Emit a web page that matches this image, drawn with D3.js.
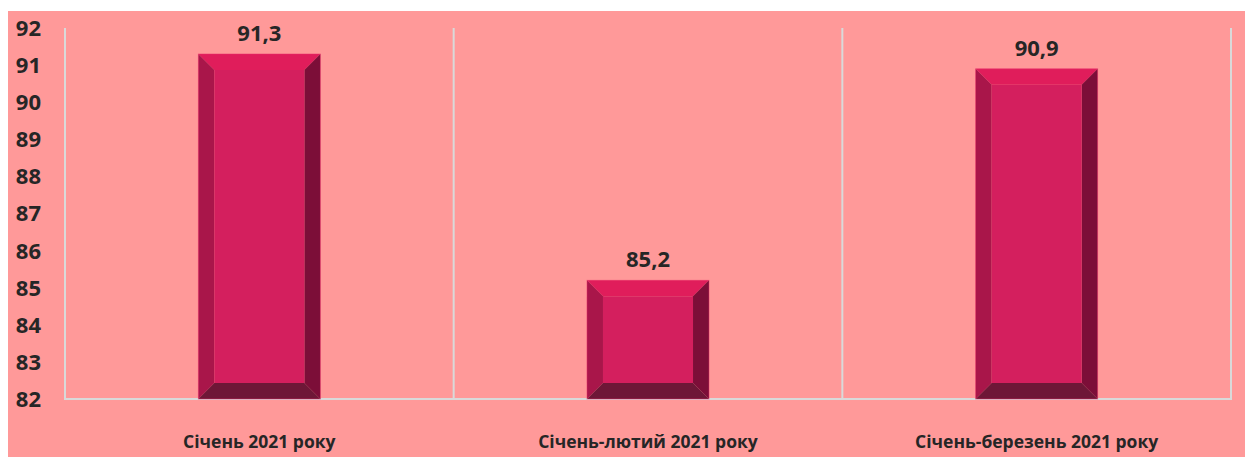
<!DOCTYPE html>
<html>
<head>
<meta charset="utf-8">
<script src="https://cdn.jsdelivr.net/npm/d3@7"></script>
<style>
  html, body { margin: 0; padding: 0; background: #fff; }
  svg { display: block; }
</style>
</head>
<body>
<svg id="chart" width="1245" height="457"></svg>
<script>
// ── DATA ──
const categories = ['Січень 2021 року', 'Січень-лютий 2021 року', 'Січень-березень 2021 року'];
const values     = [91.3, 85.2, 90.9];
const yTicks     = [82, 83, 84, 85, 86, 87, 88, 89, 90, 91, 92];

// ── LAYOUT ──
const W = 1245, H = 457;
const plot = { left: 65, right: 1231, top: 28, bottom: 399 };
const bevel = 16;
const font = '"Open Sans", "Noto Sans", sans-serif';

const svg = d3.select('#chart');

// background panel
svg.append('rect')
  .attr('x', 8).attr('y', 11)
  .attr('width', W - 8).attr('height', H - 11)
  .attr('fill', '#FF9999');

const x = d3.scaleBand().domain(categories).range([plot.left, plot.right]).padding(0);
const y = d3.scaleLinear().domain([82, 92]).range([plot.bottom, plot.top]);

// vertical gridlines at category boundaries
const bounds = categories.map(c => x(c)).concat([x(categories[categories.length - 1]) + x.bandwidth()]);
svg.append('g').selectAll('line')
  .data(bounds)
  .enter().append('line')
  .attr('x1', d => d).attr('x2', d => d)
  .attr('y1', plot.top).attr('y2', plot.bottom)
  .attr('stroke', '#D9D9D9').attr('stroke-width', 2);

// x axis baseline
svg.append('line')
  .attr('x1', plot.left - 1).attr('x2', plot.right + 1)
  .attr('y1', plot.bottom).attr('y2', plot.bottom)
  .attr('stroke', '#D9D9D9').attr('stroke-width', 2);

// y tick labels
svg.append('g').selectAll('text')
  .data(yTicks)
  .enter().append('text')
  .attr('x', 41).attr('y', d => y(d))
  .attr('dy', '0.36em')
  .attr('text-anchor', 'end')
  .attr('font-family', font).attr('font-weight', 700).attr('font-size', '22px')
  .attr('fill', '#262626')
  .text(d => d);

// bars with bevel
const barW = x.bandwidth() * 0.314;
const bars = svg.append('g').selectAll('g')
  .data(values.map((v, i) => ({ v, c: categories[i] })))
  .enter().append('g');

bars.each(function(d) {
  const g = d3.select(this);
  const x0 = x(d.c) + (x.bandwidth() - barW) / 2, x1 = x0 + barW;
  const y0 = y(d.v), y1 = y(82);
  const b = Math.min(bevel, (y1 - y0) / 2);
  const pts = a => a.map(p => p.join(',')).join(' ');
  // top
  g.append('polygon').attr('points', pts([[x0, y0], [x1, y0], [x1 - b, y0 + b], [x0 + b, y0 + b]])).attr('fill', '#E01D5B');
  // left
  g.append('polygon').attr('points', pts([[x0, y0], [x0 + b, y0 + b], [x0 + b, y1 - b], [x0, y1]])).attr('fill', '#A9164A');
  // right
  g.append('polygon').attr('points', pts([[x1, y0], [x1, y1], [x1 - b, y1 - b], [x1 - b, y0 + b]])).attr('fill', '#7C0E38');
  // bottom
  g.append('polygon').attr('points', pts([[x0, y1], [x0 + b, y1 - b], [x1 - b, y1 - b], [x1, y1]])).attr('fill', '#6E1737');
  // face
  g.append('rect')
    .attr('x', x0 + b).attr('y', y0 + b)
    .attr('width', barW - 2 * b).attr('height', y1 - y0 - 2 * b)
    .attr('fill', '#D41F5E');
  // outline
  g.append('rect')
    .attr('x', x0).attr('y', y0).attr('width', barW).attr('height', y1 - y0)
    .attr('fill', 'none').attr('stroke', '#E8306A').attr('stroke-width', 0.8).attr('opacity', 0.6);
});

// value labels
svg.append('g').selectAll('text')
  .data(values)
  .enter().append('text')
  .attr('x', (d, i) => x(categories[i]) + x.bandwidth() / 2)
  .attr('y', d => y(d) - 13)
  .attr('text-anchor', 'middle')
  .attr('font-family', font).attr('font-weight', 700).attr('font-size', '22px')
  .attr('fill', '#262626')
  .text(d => String(d).replace('.', ','));

// category labels
svg.append('g').selectAll('text')
  .data(categories)
  .enter().append('text')
  .attr('x', d => x(d) + x.bandwidth() / 2)
  .attr('y', 448)
  .attr('text-anchor', 'middle')
  .attr('font-family', font).attr('font-weight', 700).attr('font-size', '17.5px')
  .attr('fill', '#262626')
  .text(d => d);
</script>
</body>
</html>
